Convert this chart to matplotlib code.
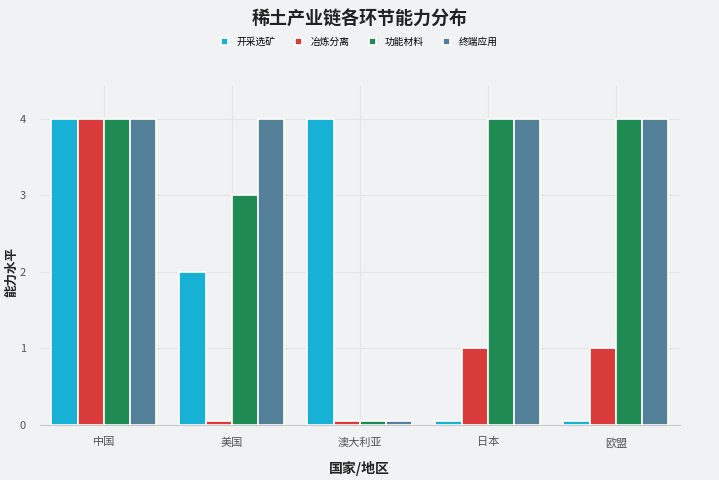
import numpy as np
import matplotlib
matplotlib.use("Agg")
import matplotlib.pyplot as plt

plt.rcParams['font.family'] = ['Noto Sans CJK SC', 'DejaVu Sans']

# data
regions = ["中国", "美国", "澳大利亚", "日本", "欧盟"]
stages = ["开采选矿", "冶炼分离", "功能材料", "终端应用"]
mining = [4, 2, 4, 0.05, 0.05]
smelting = [4, 0.05, 0.05, 1, 1]
materials = [4, 3, 0.05, 4, 4]
application = [4, 4, 0.05, 4, 4]
colors = ["#17b1d6", "#d93b3b", "#1f8a52", "#55809a"]

series = [mining, smelting, materials, application]

fig = plt.figure(figsize=(7.19, 4.8), dpi=100)
fig.patch.set_facecolor("#f1f2f3")
ax = fig.add_axes([0.0556, 0.1146, 0.89, 0.708])
ax.set_facecolor("#f1f2f3")

x = np.arange(len(regions))
w = 0.205
for i, (vals, c) in enumerate(zip(series, colors)):
    ax.bar(x + (i - 1.5) * w, vals, width=w, color=c, edgecolor="white",
           linewidth=1.2, label=stages[i], zorder=3)

ax.set_xlim(-0.5, 4.5)
ax.set_ylim(0, 4.44)
ax.set_yticks([0, 1, 2, 3, 4])
ax.set_xticks(x)
ax.set_xticklabels(regions)
ax.tick_params(axis='both', length=0, labelsize=8, colors="#555555")
ax.tick_params(axis='x', pad=9)
ax.tick_params(axis='y', pad=10)
ax.grid(True, color="#e4e5e7", linewidth=0.8, zorder=0)
for s in ["top", "right", "left"]:
    ax.spines[s].set_visible(False)
ax.spines["bottom"].set_color("#c8c8c8")

fig.text(0.5, 1 - 468 / 480, "国家/地区", fontsize=10, fontweight="bold",
         ha="center", va="center", color="#222222")
fig.text(12 / 719, 1 - 272 / 480, "能力水平", fontsize=9, fontweight="bold",
         rotation=90, ha="center", va="center", color="#222222")

fig.text(0.5, 1 - 19 / 480, "稀土产业链各环节能力分布", fontsize=13,
         fontweight="bold", ha="center", va="center", color="#222222")
fig.legend(loc="center", bbox_to_anchor=(0.5, 1 - 42 / 480), ncol=4, frameon=False,
           fontsize=7, handlelength=0.7, handleheight=0.7, columnspacing=2.0,
           handletextpad=0.9)

fig.savefig("out.png", dpi=100, facecolor=fig.get_facecolor())
